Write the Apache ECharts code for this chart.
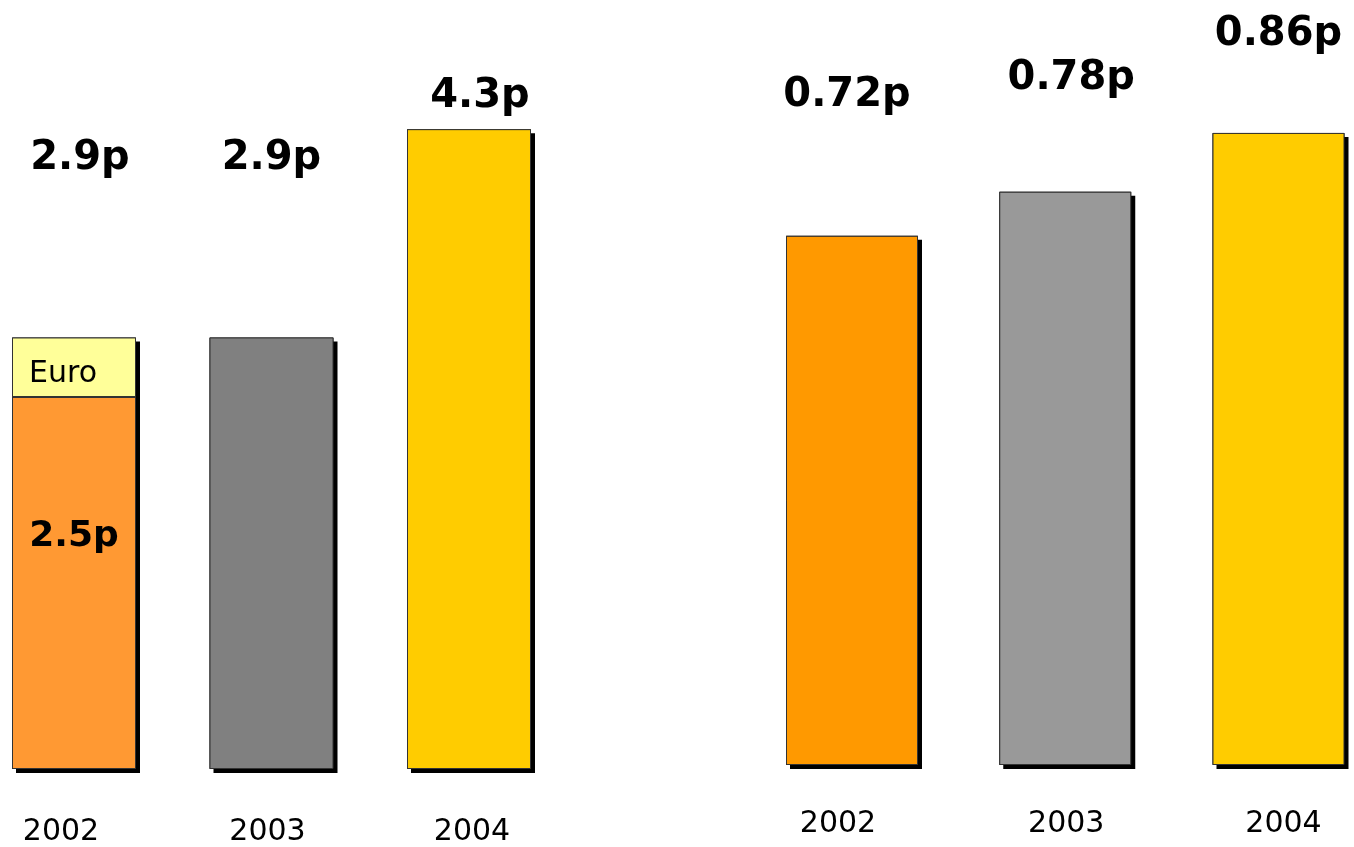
<!DOCTYPE html>
<html>
<head>
<meta charset="utf-8">
<title>Dividends per share</title>
<script src="https://cdn.jsdelivr.net/npm/echarts@6/dist/echarts.min.js"></script>
<style>
  html, body { margin: 0; padding: 0; background: #fff; }
  #chart { width: 1354px; height: 847px; }
</style>
</head>
<body>
<div id="chart"></div>
<script>
// Years shown under both panels
const years = ['2002', '2003', '2004'];

// Left panel: core dividend plus the euro element paid in 2002 (pence)
const leftCore = [2.5, 2.9, 4.3];
const leftEuro = [0.4, null, null];

// Right panel: dividend per share (pence)
const rightValues = [0.72, 0.78, 0.86];

const leftColors = ['#FF9933', '#808080', '#FFCC00'];
const euroColor = '#FFFF99';
const rightColors = ['#FF9900', '#999999', '#FFCC00'];

// Label placement tweaks: [dx, distance above bar]
const leftTopLabelPos = [[6, 159], [0, 159], [11, 13]];
const rightTopLabelPos = [[-5, 120], [6, 93], [0, 78]];
// Year label horizontal nudges
const leftYearShift = [-13, -4, 3];
const rightYearShift = [-14, 1, 5];

const valueFont = { fontFamily: 'DejaVu Sans', fontWeight: 'bold', fontSize: 40, color: '#000' };

// Bar face: fill with a thin dark outline
const faceStyle = (color) => ({ color: color, borderColor: '#333', borderWidth: 1 });
// Drop shadow drawn behind each full bar
const shadowStyle = {
  color: '#000',
  shadowColor: '#000',
  shadowBlur: 0,
  shadowOffsetX: 4,
  shadowOffsetY: 4
};

function yearData(shifts) {
  return years.map((y, i) => {
    const d = shifts[i];
    return {
      value: y,
      textStyle: { padding: d < 0 ? [0, -2 * d, 0, 0] : [0, 0, 0, 2 * d] }
    };
  });
}

function fmt(v, digits) { return v.toFixed(digits) + 'p'; }

const leftTotals = leftCore.map((v, i) => v + (leftEuro[i] || 0));

// Full-height shadow bars carrying the total labels
const leftShadowData = leftTotals.map((t, i) => {
  const p = leftTopLabelPos[i];
  return {
    value: t,
    label: Object.assign({ show: true, position: 'top', distance: p[1], offset: [p[0], 0],
      formatter: fmt(t, 1) }, valueFont)
  };
});

// Core part; where a euro element exists the core value is written inside
const coreData = leftCore.map((v, i) => {
  const item = { value: v, itemStyle: faceStyle(leftColors[i]) };
  if (leftEuro[i] != null) {
    item.label = {
      show: true, position: 'inside', offset: [0, -46], formatter: fmt(v, 1),
      fontFamily: 'DejaVu Sans', fontWeight: 'bold', fontSize: 36, color: '#000'
    };
  }
  return item;
});

const euroData = leftEuro.map((v) => {
  if (v == null) return null;
  return {
    value: v,
    itemStyle: faceStyle(euroColor),
    label: {
      show: true, position: 'insideLeft', distance: 17, offset: [0, 7],
      formatter: 'Euro', fontFamily: 'DejaVu Sans', fontSize: 30, color: '#000'
    }
  };
});

const rightShadowData = rightValues.map((v, i) => {
  const p = rightTopLabelPos[i];
  return {
    value: v,
    label: Object.assign({ show: true, position: 'top', distance: p[1], offset: [p[0], 0],
      formatter: fmt(v, 2) }, valueFont)
  };
});

const rightFaceData = rightValues.map((v, i) => ({ value: v, itemStyle: faceStyle(rightColors[i]) }));

const axisLabelStyle = { fontFamily: 'DejaVu Sans', fontSize: 30, color: '#000' };

const option = {
  animation: false,
  backgroundColor: '#fff',
  grid: [
    { left: 74, width: 395, top: 25, bottom: 77 },
    { left: 852, width: 426.5, top: 30, bottom: 82 }
  ],
  xAxis: [
    {
      type: 'category', gridIndex: 0, data: yearData(leftYearShift), boundaryGap: false,
      axisLine: { show: false }, axisTick: { show: false },
      axisLabel: Object.assign({ margin: 48 }, axisLabelStyle)
    },
    {
      type: 'category', gridIndex: 1, data: yearData(rightYearShift), boundaryGap: false,
      axisLine: { show: false }, axisTick: { show: false },
      axisLabel: Object.assign({ margin: 44 }, axisLabelStyle)
    }
  ],
  yAxis: [
    { type: 'value', gridIndex: 0, min: 0, max: 5, show: false, splitLine: { show: false } },
    { type: 'value', gridIndex: 1, min: 0, max: 1, show: false, splitLine: { show: false } }
  ],
  series: [
    {
      name: 'Total dividend', type: 'bar', xAxisIndex: 0, yAxisIndex: 0,
      barWidth: 124, barGap: '-100%', clip: false, z: 1,
      itemStyle: shadowStyle, data: leftShadowData
    },
    {
      name: 'Core dividend', type: 'bar', xAxisIndex: 0, yAxisIndex: 0, stack: 'left',
      barWidth: 124, barGap: '-100%', clip: false, z: 3, data: coreData
    },
    {
      name: 'Euro', type: 'bar', xAxisIndex: 0, yAxisIndex: 0, stack: 'left',
      barWidth: 124, barGap: '-100%', clip: false, z: 2, data: euroData
    },
    {
      name: 'Dividend per share', type: 'bar', xAxisIndex: 1, yAxisIndex: 1,
      barWidth: 132, barGap: '-100%', clip: false, z: 1,
      itemStyle: shadowStyle, data: rightShadowData
    },
    {
      name: 'Dividend per share face', type: 'bar', xAxisIndex: 1, yAxisIndex: 1,
      barWidth: 132, barGap: '-100%', clip: false, z: 2, data: rightFaceData
    }
  ]
};

const chart = echarts.init(document.getElementById('chart'), null, { renderer: 'canvas' });
chart.setOption(option);
</script>
</body>
</html>
